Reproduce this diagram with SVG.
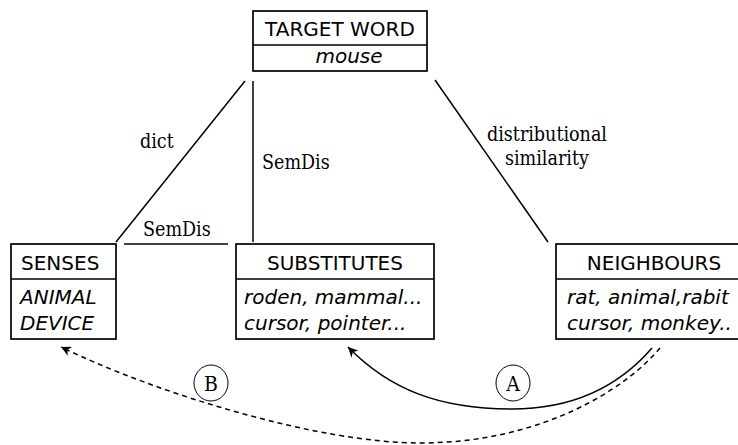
<svg xmlns="http://www.w3.org/2000/svg" width="738" height="445" viewBox="0 0 738 445">
<style>
.box{fill:#fff;stroke:#000;stroke-width:1.7}
.div{stroke:#000;stroke-width:1.4}
.t{font-family:"DejaVu Sans","Liberation Sans",sans-serif;font-size:20px;fill:#000}
.i{font-style:italic}
.lbl{font-family:"DejaVu Serif","Liberation Serif",serif;font-size:19.5px;fill:#000;font-stretch:condensed}
.ln{stroke:#000;stroke-width:1.5;fill:none}
.cl{fill:none;stroke:#000;stroke-width:1}
.cf{font-family:"DejaVu Serif","Liberation Serif",serif;font-size:21px;fill:#000;font-stretch:condensed}
</style>
<defs>
<marker id="ah" viewBox="0 0 10 10" refX="10" refY="5" markerWidth="10" markerHeight="10" markerUnits="userSpaceOnUse" orient="auto">
<path d="M0,0 L10,5 L0,10 L3,5 Z" fill="#000"/>
</marker>
</defs>
<g id="connectors">
<line class="ln" x1="245" y1="81" x2="116" y2="242"/>
<line class="ln" x1="253" y1="81" x2="253" y2="242"/>
<line class="ln" x1="124" y1="244" x2="228" y2="244"/>
<line class="ln" x1="435" y1="80" x2="548" y2="242"/>
<text class="lbl" x="140" y="148">dict</text>
<text class="lbl" x="262" y="169">SemDis</text>
<text class="lbl" x="143" y="236">SemDis</text>
<text class="lbl" x="487" y="141">distributional</text>
<text class="lbl" x="505" y="165">similarity</text>
<path class="ln" stroke-width="1.8" d="M652,348 C620,385 575,409 512,409 C440,409 390,390 348,347" marker-end="url(#ah)"/>
<path class="ln" stroke-dasharray="5,4" d="M660,348 C625,390 540,443 420,443 C320,443 160,395 61,347" marker-end="url(#ah)"/>
</g>
<g id="label-a">
<ellipse class="cl" cx="513" cy="383" rx="17" ry="18"/>
<text class="cf" x="513" y="391" text-anchor="middle">A</text>
</g>
<g id="label-b">
<ellipse class="cl" cx="211" cy="383" rx="17" ry="18"/>
<text class="cf" x="211" y="391" text-anchor="middle">B</text>
</g>
<g id="target">
<rect class="box" x="253" y="11" width="174" height="60"/>
<line class="div" x1="253" y1="45" x2="427" y2="45"/>
<text class="t" x="340" y="36" text-anchor="middle">TARGET WORD</text>
<text class="t i" x="349" y="63" text-anchor="middle">mouse</text>
</g>
<g id="senses">
<rect class="box" x="11" y="244" width="105" height="95"/>
<line class="div" x1="11" y1="279" x2="116" y2="279"/>
<text class="t" x="21" y="270">SENSES</text>
<text class="t i" x="20" y="304">ANIMAL</text>
<text class="t i" x="20" y="330">DEVICE</text>
</g>
<g id="substitutes">
<rect class="box" x="236" y="244" width="198" height="95"/>
<line class="div" x1="236" y1="279" x2="434" y2="279"/>
<text class="t" x="335" y="270" text-anchor="middle">SUBSTITUTES</text>
<text class="t i" x="244" y="304">roden, mammal...</text>
<text class="t i" x="244" y="330">cursor, pointer...</text>
</g>
<g id="neighbours">
<rect class="box" x="556" y="244" width="196" height="95"/>
<line class="div" x1="556" y1="279" x2="752" y2="279"/>
<text class="t" x="654" y="270" text-anchor="middle">NEIGHBOURS</text>
<text class="t i" x="567" y="304">rat, animal,rabit</text>
<text class="t i" x="567" y="330">cursor, monkey..</text>
</g>
</svg>
